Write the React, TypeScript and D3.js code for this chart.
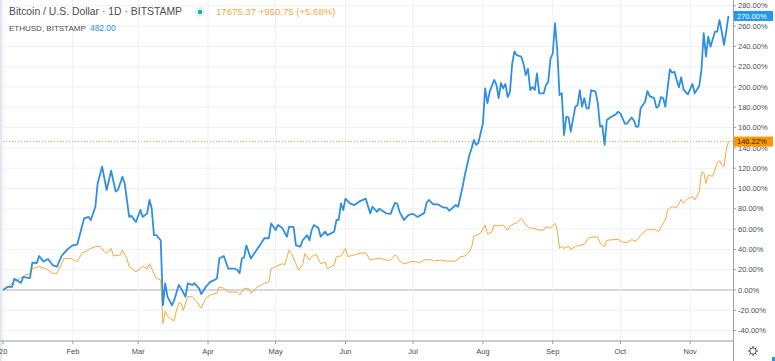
import React from "react";
import * as d3 from "d3";

const ethSeries: [string, number][] = [
  ["2020-01-01", 0], ["2020-01-03", 3], ["2020-01-05", 3], ["2020-01-06", 11], ["2020-01-09", 7],
  ["2020-01-10", 13], ["2020-01-12", 12], ["2020-01-13", 12], ["2020-01-14", 27], ["2020-01-16", 26.6],
  ["2020-01-17", 33.5], ["2020-01-19", 28], ["2020-01-21", 30.5], ["2020-01-23", 24.6], ["2020-01-25", 23],
  ["2020-01-27", 33.5], ["2020-01-28", 36], ["2020-01-30", 41], ["2020-02-01", 44], ["2020-02-03", 45],
  ["2020-02-06", 70.6], ["2020-02-08", 72], ["2020-02-09", 69], ["2020-02-11", 82], ["2020-02-12", 105],
  ["2020-02-14", 121.5], ["2020-02-16", 98.5], ["2020-02-18", 117.5], ["2020-02-20", 97], ["2020-02-21", 98.5],
  ["2020-02-23", 111.6], ["2020-02-24", 105], ["2020-02-26", 72], ["2020-02-27", 73], ["2020-02-29", 67],
  ["2020-03-02", 79], ["2020-03-03", 72], ["2020-03-05", 75.5], ["2020-03-06", 88.7], ["2020-03-07", 80.5],
  ["2020-03-08", 54], ["2020-03-09", 54], ["2020-03-11", 49], ["2020-03-12", -15], ["2020-03-13", 6.6],
  ["2020-03-14", -6.6], ["2020-03-16", -15], ["2020-03-17", -10], ["2020-03-19", 5], ["2020-03-20", 1.6],
  ["2020-03-22", -6.6], ["2020-03-23", 6.6], ["2020-03-25", 5], ["2020-03-26", 6.6], ["2020-03-28", 1.6],
  ["2020-03-29", -4], ["2020-03-31", 3], ["2020-04-02", 8], ["2020-04-04", 10], ["2020-04-05", 11.5],
  ["2020-04-06", 31], ["2020-04-08", 33.5], ["2020-04-10", 21], ["2020-04-13", 21], ["2020-04-14", 19.7],
  ["2020-04-15", 16.4], ["2020-04-16", 31], ["2020-04-17", 32], ["2020-04-18", 44], ["2020-04-20", 31],
  ["2020-04-23", 41], ["2020-04-24", 44], ["2020-04-26", 51], ["2020-04-28", 51], ["2020-04-29", 65.7],
  ["2020-05-01", 59], ["2020-05-02", 64], ["2020-05-04", 61], ["2020-05-06", 52.5], ["2020-05-07", 62.4],
  ["2020-05-09", 62], ["2020-05-10", 44], ["2020-05-12", 42.7], ["2020-05-13", 49], ["2020-05-15", 54],
  ["2020-05-16", 49], ["2020-05-17", 59], ["2020-05-18", 64], ["2020-05-20", 61], ["2020-05-21", 52.5],
  ["2020-05-23", 57.5], ["2020-05-24", 54], ["2020-05-27", 57.5], ["2020-05-28", 69], ["2020-05-29", 69],
  ["2020-05-30", 85.4], ["2020-05-31", 78.8], ["2020-06-01", 90], ["2020-06-03", 85.4], ["2020-06-05", 83.7],
  ["2020-06-07", 87], ["2020-06-10", 90], ["2020-06-12", 75.5], ["2020-06-13", 82], ["2020-06-15", 77],
  ["2020-06-16", 80], ["2020-06-19", 75.5], ["2020-06-21", 75], ["2020-06-23", 86], ["2020-06-24", 85],
  ["2020-06-25", 77], ["2020-06-27", 69], ["2020-06-29", 74], ["2020-07-01", 75], ["2020-07-03", 72],
  ["2020-07-06", 76], ["2020-07-07", 86], ["2020-07-08", 88.7], ["2020-07-10", 84.4], ["2020-07-12", 84.4],
  ["2020-07-14", 81.7], ["2020-07-16", 81], ["2020-07-17", 78], ["2020-07-20", 83.7], ["2020-07-21", 82],
  ["2020-07-23", 101.8], ["2020-07-24", 113.3], ["2020-07-26", 133], ["2020-07-27", 139.6], ["2020-07-28", 147.8],
  ["2020-07-29", 143], ["2020-07-30", 145], ["2020-08-01", 164], ["2020-08-02", 198.7], ["2020-08-03", 184],
  ["2020-08-04", 195.4], ["2020-08-06", 207], ["2020-08-07", 202], ["2020-08-08", 189], ["2020-08-09", 204],
  ["2020-08-10", 198.7], ["2020-08-11", 203], ["2020-08-12", 190], ["2020-08-13", 195], ["2020-08-14", 223],
  ["2020-08-15", 235], ["2020-08-16", 231.5], ["2020-08-18", 230], ["2020-08-19", 223], ["2020-08-20", 211.8],
  ["2020-08-21", 218], ["2020-08-22", 197], ["2020-08-23", 200], ["2020-08-24", 197], ["2020-08-25", 213.5],
  ["2020-08-26", 193.8], ["2020-08-28", 193.8], ["2020-08-29", 202], ["2020-08-30", 205], ["2020-08-31", 228],
  ["2020-09-01", 233], ["2020-09-02", 262.8], ["2020-09-03", 236.5], ["2020-09-04", 192], ["2020-09-05", 194],
  ["2020-09-06", 152.7], ["2020-09-07", 170.7], ["2020-09-08", 170], ["2020-09-09", 156], ["2020-09-11", 180.6],
  ["2020-09-12", 182], ["2020-09-13", 197], ["2020-09-14", 180.6], ["2020-09-15", 189], ["2020-09-16", 179],
  ["2020-09-17", 179], ["2020-09-18", 197], ["2020-09-20", 195.4], ["2020-09-21", 184], ["2020-09-22", 161],
  ["2020-09-23", 162], ["2020-09-24", 143], ["2020-09-25", 167.5], ["2020-09-27", 170.7], ["2020-09-29", 173],
  ["2020-09-30", 175.7], ["2020-10-01", 174], ["2020-10-03", 164], ["2020-10-04", 164], ["2020-10-06", 170],
  ["2020-10-07", 167], ["2020-10-08", 161], ["2020-10-09", 161], ["2020-10-10", 179], ["2020-10-12", 185.5],
  ["2020-10-13", 196], ["2020-10-14", 191], ["2020-10-16", 189], ["2020-10-17", 179.6], ["2020-10-18", 181],
  ["2020-10-19", 190], ["2020-10-20", 189], ["2020-10-21", 180.6], ["2020-10-23", 217.4], ["2020-10-24", 214],
  ["2020-10-25", 215], ["2020-10-26", 207], ["2020-10-27", 199.7], ["2020-10-28", 209.6], ["2020-10-29", 197.7],
  ["2020-10-30", 195], ["2020-10-31", 192.8], ["2020-11-02", 203], ["2020-11-03", 193.8], ["2020-11-05", 201],
  ["2020-11-06", 216.7], ["2020-11-07", 253], ["2020-11-08", 230], ["2020-11-09", 249.6], ["2020-11-10", 239.7],
  ["2020-11-12", 254.5], ["2020-11-13", 254.5], ["2020-11-14", 266], ["2020-11-15", 254.5], ["2020-11-16", 241.4],
  ["2020-11-17", 255], ["2020-11-18", 270],
];

const btcSeries: [string, number][] = [
  ["2020-01-01", 0], ["2020-01-03", 3], ["2020-01-06", 8.5], ["2020-01-09", 12], ["2020-01-11", 15],
  ["2020-01-13", 16], ["2020-01-14", 21], ["2020-01-17", 23], ["2020-01-20", 21], ["2020-01-23", 16.4],
  ["2020-01-25", 16.4], ["2020-01-28", 31], ["2020-01-31", 31], ["2020-02-03", 28], ["2020-02-05", 36],
  ["2020-02-09", 41], ["2020-02-11", 42.7], ["2020-02-13", 43], ["2020-02-15", 37.7], ["2020-02-16", 36],
  ["2020-02-18", 41], ["2020-02-19", 33.5], ["2020-02-22", 34.5], ["2020-02-23", 39.4], ["2020-02-25", 31],
  ["2020-02-26", 23], ["2020-02-29", 18], ["2020-03-03", 23], ["2020-03-05", 21], ["2020-03-06", 26],
  ["2020-03-08", 16.4], ["2020-03-09", 11.5], ["2020-03-11", 10], ["2020-03-12", -33], ["2020-03-13", -21],
  ["2020-03-14", -26], ["2020-03-16", -29.5], ["2020-03-17", -30], ["2020-03-18", -20], ["2020-03-19", -13],
  ["2020-03-20", -13], ["2020-03-21", -20], ["2020-03-23", -6.6], ["2020-03-25", -6.6], ["2020-03-27", -11.5],
  ["2020-03-29", -18], ["2020-03-31", -8], ["2020-04-02", -5], ["2020-04-05", -3], ["2020-04-06", 3],
  ["2020-04-08", 1.6], ["2020-04-10", -2], ["2020-04-14", -2], ["2020-04-15", -5], ["2020-04-17", 1.6],
  ["2020-04-19", 1.6], ["2020-04-20", -3], ["2020-04-23", 3], ["2020-04-26", 6.6], ["2020-04-28", 8],
  ["2020-04-29", 21], ["2020-05-01", 23], ["2020-05-04", 26], ["2020-05-05", 24.6], ["2020-05-07", 39.4],
  ["2020-05-08", 36], ["2020-05-10", 26], ["2020-05-11", 19.7], ["2020-05-13", 24.6], ["2020-05-14", 36],
  ["2020-05-16", 29.5], ["2020-05-17", 33], ["2020-05-19", 35], ["2020-05-21", 26], ["2020-05-23", 27.5],
  ["2020-05-24", 21], ["2020-05-27", 24.6], ["2020-05-28", 33], ["2020-05-30", 33.5], ["2020-06-01", 41],
  ["2020-06-02", 33], ["2020-06-05", 34.5], ["2020-06-07", 36], ["2020-06-10", 36.7], ["2020-06-12", 29.5],
  ["2020-06-15", 31], ["2020-06-17", 31], ["2020-06-19", 29.5], ["2020-06-21", 29.5], ["2020-06-23", 34.5],
  ["2020-06-24", 33], ["2020-06-25", 28.5], ["2020-06-27", 25.6], ["2020-06-30", 28], ["2020-07-02", 28],
  ["2020-07-04", 27], ["2020-07-06", 29.5], ["2020-07-09", 30], ["2020-07-10", 28.5], ["2020-07-13", 29.5],
  ["2020-07-16", 28.5], ["2020-07-20", 28.5], ["2020-07-22", 32.8], ["2020-07-24", 33.5], ["2020-07-26", 37.7],
  ["2020-07-27", 42.7], ["2020-07-28", 53], ["2020-07-29", 54], ["2020-07-31", 56], ["2020-08-02", 64],
  ["2020-08-03", 55], ["2020-08-05", 57.5], ["2020-08-06", 64], ["2020-08-08", 63], ["2020-08-10", 64],
  ["2020-08-12", 59], ["2020-08-13", 63], ["2020-08-15", 65.7], ["2020-08-16", 65.7], ["2020-08-18", 70.6],
  ["2020-08-20", 64], ["2020-08-22", 60.8], ["2020-08-23", 61], ["2020-08-26", 59], ["2020-08-28", 59],
  ["2020-08-29", 62.4], ["2020-08-31", 61], ["2020-09-02", 65.7], ["2020-09-03", 59], ["2020-09-04", 41],
  ["2020-09-05", 43], ["2020-09-06", 41], ["2020-09-08", 43], ["2020-09-09", 40], ["2020-09-11", 43],
  ["2020-09-13", 44], ["2020-09-15", 45], ["2020-09-17", 51.6], ["2020-09-20", 52.5], ["2020-09-21", 52],
  ["2020-09-22", 46], ["2020-09-24", 42.7], ["2020-09-25", 49], ["2020-09-28", 49.6], ["2020-09-30", 50],
  ["2020-10-02", 47], ["2020-10-04", 47], ["2020-10-06", 49.6], ["2020-10-08", 48], ["2020-10-10", 54],
  ["2020-10-13", 60], ["2020-10-15", 59], ["2020-10-16", 60], ["2020-10-18", 57.5], ["2020-10-20", 65.7],
  ["2020-10-21", 69], ["2020-10-22", 79.5], ["2020-10-24", 82], ["2020-10-26", 81.3], ["2020-10-28", 89.4],
  ["2020-10-29", 85.4], ["2020-10-31", 90.3], ["2020-11-02", 92], ["2020-11-03", 88.7], ["2020-11-05", 97],
  ["2020-11-06", 116], ["2020-11-07", 116], ["2020-11-08", 105], ["2020-11-09", 113], ["2020-11-11", 112],
  ["2020-11-13", 125.4], ["2020-11-14", 127.4], ["2020-11-15", 123], ["2020-11-16", 121.5], ["2020-11-17", 138],
  ["2020-11-18", 146.22],
];

const yTicks = [-40, -20, 0, 20, 40, 60, 80, 100, 120, 140, 160, 180, 200, 220, 240, 260, 280];
const monthTicks = ["2020-01-01", "2020-02-01", "2020-03-01", "2020-04-01", "2020-05-01", "2020-06-01",
  "2020-07-01", "2020-08-01", "2020-09-01", "2020-10-01", "2020-11-01"];
const monthLabels = ["2020", "Feb", "Mar", "Apr", "May", "Jun", "Jul", "Aug", "Sep", "Oct", "Nov"];

const titleText = "Bitcoin / U.S. Dollar · 1D · BITSTAMP";
const quoteText = "17675.37 +950.75 (+5.68%)";
const compareName = "ETHUSD, BITSTAMP";
const compareQuote = "482.00";
const ethLast = "270.00%";
const btcLast = "146.22%";

const W = 775, H = 361;
const PLOT_R = 733, AXIS_Y = 341;
const BLUE = "#2f8fe3";
const ORANGE = "#f5a93b";
const FONT = "'Liberation Sans', Arial, sans-serif";

const parse = d3.timeParse("%Y-%m-%d");

export default function App() {
  const x = d3.scaleTime()
    .domain([parse("2020-01-01")!, parse("2020-11-20")!])
    .range([3, PLOT_R]);
  const y = d3.scaleLinear().domain([-40, 280]).range([330.6, 5.8]);

  const line = d3.line<[string, number]>()
    .x((d) => x(parse(d[0])!))
    .y((d) => y(d[1]));

  const ethLastV = ethSeries[ethSeries.length - 1][1];
  const btcLastV = btcSeries[btcSeries.length - 1][1];

  const gearTeeth = d3.range(8).map((i) => (i * Math.PI) / 4);

  return (
    <svg width={W} height={H} style={{ position: "absolute", left: 0, top: 0, background: "#fff" }}
      fontFamily={FONT}>
      <rect x={0} y={0} width={W} height={H} fill="#fff" />
      {yTicks.map((t) => (
        <line key={"gy" + t} x1={0} x2={PLOT_R} y1={y(t)} y2={y(t)}
          stroke={t === 0 ? "#c9cbd1" : "#eef0f4"} strokeWidth={t === 0 ? 1.5 : 1} />
      ))}
      {monthTicks.map((m) => (
        <line key={"gx" + m} x1={x(parse(m)!)} x2={x(parse(m)!)} y1={0} y2={AXIS_Y}
          stroke="#eef0f4" strokeWidth={1} />
      ))}
      <line x1={0} x2={PLOT_R} y1={y(btcLastV)} y2={y(btcLastV)} stroke={ORANGE}
        strokeWidth={1} strokeDasharray="1 2" />
      <path d={line(btcSeries)!} fill="none" stroke={ORANGE} strokeWidth={1} strokeLinejoin="round" />
      <path d={line(ethSeries)!} fill="none" stroke={BLUE} strokeWidth={1.8} strokeLinejoin="round" />
      <rect x={0} y={0} width={2} height={H} fill="#e3e6ec" />
      <line x1={0} x2={PLOT_R} y1={AXIS_Y} y2={AXIS_Y} stroke="#b8bbc2" strokeWidth={1.5} />
      <line x1={PLOT_R + 0.5} x2={PLOT_R + 0.5} y1={0} y2={H} stroke="#9a9da6" strokeWidth={1} />
      {yTicks.map((t) => (
        <g key={"yt" + t}>
          <line x1={PLOT_R} x2={PLOT_R + 3} y1={y(t)} y2={y(t)} stroke="#9a9da6" />
          <text x={738} y={y(t)} dy="0.35em" fontSize={7.5} fill="#4a4d55">{t.toFixed(2) + "%"}</text>
        </g>
      ))}
      {monthTicks.map((m, i) => (
        <g key={"xt" + m}>
          <line x1={x(parse(m)!)} x2={x(parse(m)!)} y1={AXIS_Y} y2={AXIS_Y + 3} stroke="#9a9da6" />
          <text x={i === 0 ? -1 : x(parse(m)!)} y={354} textAnchor="middle" fontSize={7.5} fill="#4a4d55">
            {monthLabels[i]}
          </text>
        </g>
      ))}
      <rect x={734} y={y(ethLastV) - 5} width={39} height={10} fill="#2196f3" />
      <text x={737} y={y(ethLastV)} dy="0.35em" fontSize={7.5} fill="#fff">{ethLast}</text>
      <rect x={734} y={y(btcLastV) - 5} width={39} height={10} fill="#ff9800" />
      <text x={737} y={y(btcLastV)} dy="0.35em" fontSize={7.5} fill="#1d1d1d">{btcLast}</text>
      <text x={9} y={15} fontSize={10.4} fill="#4a4d55">{titleText}</text>
      <circle cx={200} cy={12} r={5} fill="#dff3ee" />
      <circle cx={200} cy={12} r={2.2} fill="#26a69a" />
      <text x={216} y={15} fontSize={9.6} fill={ORANGE}>{quoteText}</text>
      <text x={9} y={31} fontSize={8} fill="#4a4d55">{compareName}</text>
      <text x={90} y={31} fontSize={8.4} fill="#2196f3">{compareQuote}</text>
      <g transform="translate(753,351)" stroke="#4a4d55" fill="none" strokeWidth={1}>
        <circle r={3.2} />
        {gearTeeth.map((a, i) => (
          <line key={i} x1={Math.cos(a) * 3.2} y1={Math.sin(a) * 3.2} x2={Math.cos(a) * 5} y2={Math.sin(a) * 5} />
        ))}
      </g>
      <rect x={772} y={357} width={3} height={4} fill="#2196f3" />
    </svg>
  );
}
